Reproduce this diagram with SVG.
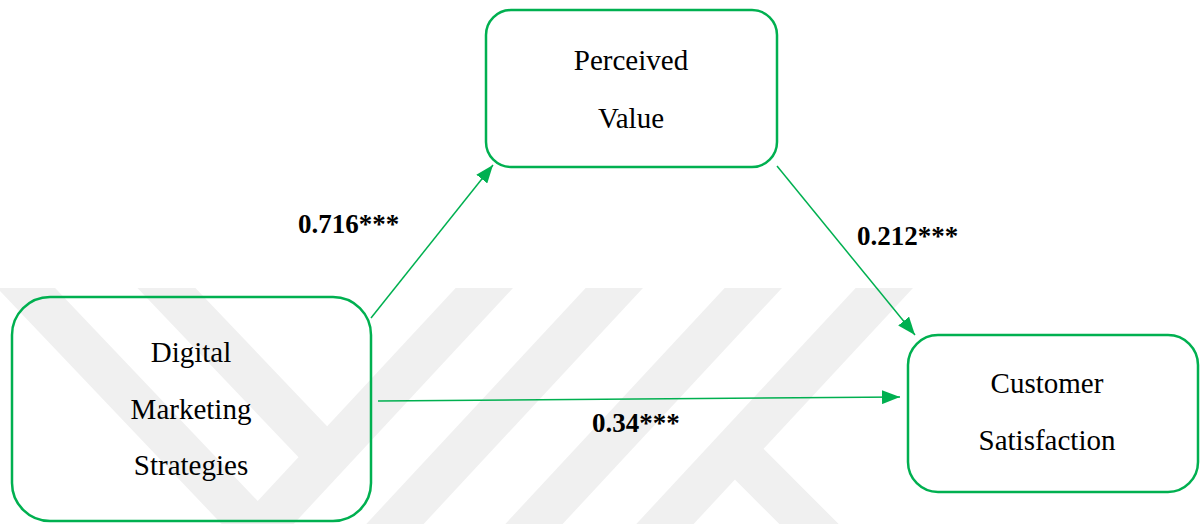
<svg xmlns="http://www.w3.org/2000/svg" width="1203" height="524" viewBox="0 0 1203 524">
  <style>
    .box { fill: none; stroke: #00b050; stroke-width: 2.5; }
    .node-text { font-size: 29px; fill: #000; text-anchor: middle; }
    .edge { stroke: #00b050; stroke-width: 1.5; fill: none; marker-end: url(#arrow); }
    .edge-label { font-size: 27px; font-weight: bold; fill: #000; }
    .wm { fill: none; stroke: #f0f0f0; stroke-width: 42; stroke-linecap: butt; }
  </style>
  <defs>
    <marker id="arrow" markerUnits="userSpaceOnUse" markerWidth="18" markerHeight="14" refX="18" refY="7" orient="auto">
      <path d="M0,0 L18,7 L0,14 Z" fill="#00b050"/>
    </marker>
    <clipPath id="wmclip">
      <rect x="0" y="288" width="1203" height="236"/>
    </clipPath>
  </defs>
  <rect width="1203" height="524" fill="#ffffff"/>

  <g id="watermark" clip-path="url(#wmclip)">
    <line class="wm" x1="515" y1="255" x2="238" y2="553"/>
    <line class="wm" x1="645" y1="255" x2="368" y2="553"/>
    <line class="wm" x1="784" y1="255" x2="507" y2="553"/>
    <line class="wm" x1="915" y1="255" x2="638" y2="553"/>
    <line class="wm" x1="-10" y1="250" x2="262" y2="536"/>
    <line class="wm" x1="135" y1="255" x2="335" y2="465"/>
    <line class="wm" x1="735" y1="450" x2="830" y2="545"/>
  </g>

  <g id="connectors">
    <line class="edge" x1="371" y1="318" x2="493" y2="165"/>
    <line class="edge" x1="777" y1="166" x2="915" y2="335"/>
    <line class="edge" x1="378" y1="401" x2="900" y2="397"/>
    <g font-family="'Liberation Serif', 'Times New Roman', serif">
      <text class="edge-label" x="298" y="233">0.716***</text>
      <text class="edge-label" x="857" y="245">0.212***</text>
      <text class="edge-label" x="592" y="432">0.34***</text>
    </g>
  </g>

  <g id="node-perceived-value" font-family="'Liberation Serif', 'Times New Roman', serif">
    <rect class="box" x="486" y="10" width="291" height="157" rx="25" ry="25"/>
    <text class="node-text" x="631" y="70">Perceived</text>
    <text class="node-text" x="631" y="128">Value</text>
  </g>

  <g id="node-digital-marketing" font-family="'Liberation Serif', 'Times New Roman', serif">
    <rect class="box" x="12" y="297" width="359" height="224" rx="38" ry="38"/>
    <text class="node-text" x="191" y="362">Digital</text>
    <text class="node-text" x="191" y="419">Marketing</text>
    <text class="node-text" x="191" y="475">Strategies</text>
  </g>

  <g id="node-customer-satisfaction" font-family="'Liberation Serif', 'Times New Roman', serif">
    <rect class="box" x="908" y="335" width="290" height="157" rx="30" ry="30"/>
    <text class="node-text" x="1047" y="393">Customer</text>
    <text class="node-text" x="1047" y="450">Satisfaction</text>
  </g>
</svg>
